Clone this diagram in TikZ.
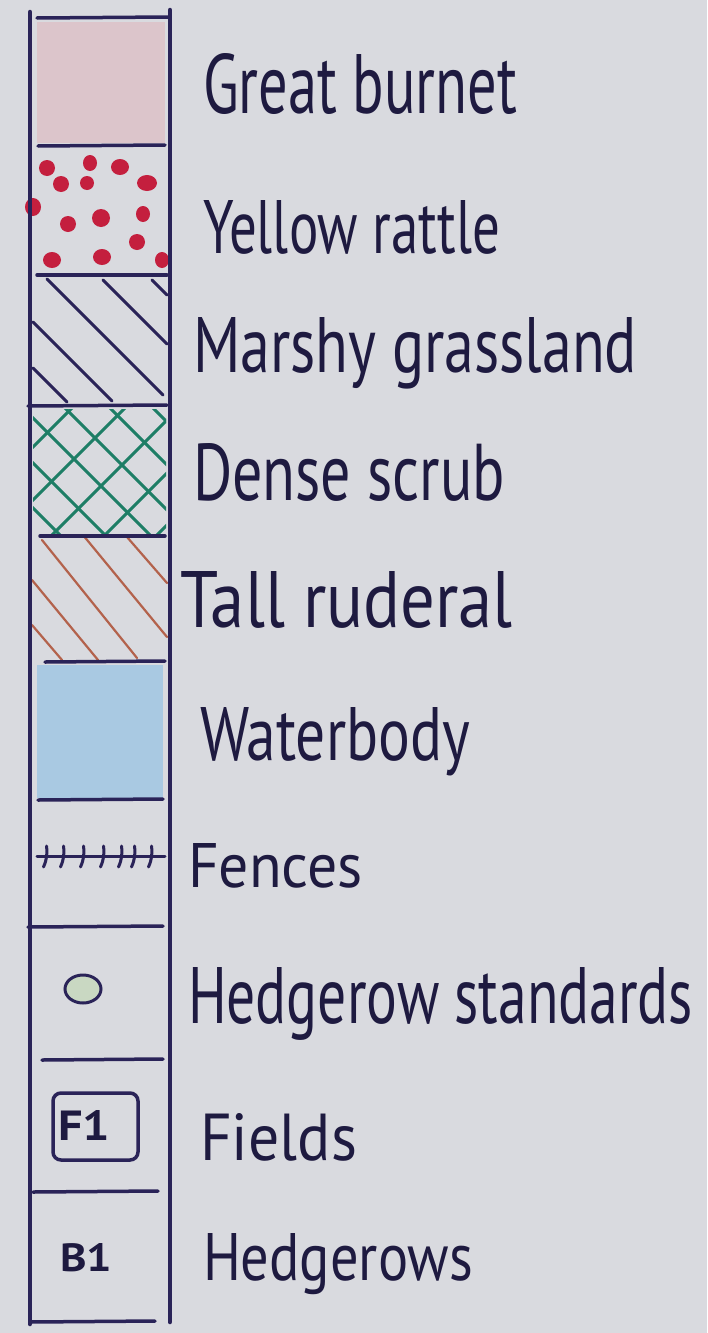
\documentclass[tikz,border=0pt]{standalone}
\usepackage{fontspec}
\setmainfont{PT Sans}
\usepackage{graphicx}
\definecolor{paper}{HTML}{D9DADF}
\definecolor{inkc}{HTML}{2A2358}
\definecolor{textc}{HTML}{1E1A40}
\definecolor{pinkfill}{HTML}{DCC5CB}
\definecolor{dotred}{HTML}{C41F3E}
\definecolor{bluefill}{HTML}{A9C9E2}
\definecolor{scrubgreen}{HTML}{1E7E66}
\definecolor{ruderal}{HTML}{B3624C}
\definecolor{palegreen}{HTML}{C9D8C2}
\newcommand{\fitlbl}[3]{\resizebox{#1pt}{#2pt}{\fontsize{60}{60}\selectfont #3}}
\begin{document}
\begin{tikzpicture}[x=1pt,y=-1pt,
  framev/.style={draw=inkc, line width=4.5pt, line cap=round},
  frameh/.style={draw=inkc, line width=3.5pt, line cap=round},
  marsh/.style={draw=inkc, line width=3pt, line cap=round},
  scrub/.style={draw=scrubgreen, line width=3pt, line cap=round},
  rud/.style={draw=ruderal, line width=2.2pt, line cap=round},
  fencestyle/.style={draw=inkc, line width=3pt, line cap=round},
  dot/.style={fill=dotred},
  lbl/.style={anchor=base west, inner sep=0pt, outer sep=0pt, text=textc},
  sym/.style={anchor=base west, inner sep=0pt, outer sep=0pt, text=textc}]
\fill[paper] (0,0) rectangle (707,1333);
\useasboundingbox (0,0) rectangle (707,1333);

% fills
\fill[pinkfill] (37,22) rectangle (165,143);
\fill[bluefill] (37,665) rectangle (163,798);

% yellow rattle dots
\foreach \x/\y/\rx/\ry in {47/168/8/8, 90/163/7/8, 120/167/9/8, 61/184/8/8, 87/183/7/7,
  147/183/10/8, 33/207/8/9, 68/224/8/8, 101/218/9/9, 143/214/7/8, 137/242/8/8,
  52/260/9/8, 102/257/9/8, 162/260/7/8}
  \fill[dot] (\x,\y) ellipse [x radius=\rx, y radius=\ry];

% marshy grassland hatching
\draw[marsh] (47,279) -- (163,395);
\draw[marsh] (103,280) -- (167,344);
\draw[marsh] (152,280) -- (167,295);
\draw[marsh] (33,322) -- (112,401);
\draw[marsh] (33,368) -- (67,402);

% dense scrub cross hatching
\begin{scope}
  \clip (33,409) rectangle (166,533);
  \foreach \c in {-475,-430,-385,-343,-298,-255}
    \draw[scrub] (\c+400,400) -- (\c+540,540);
  \foreach \d in {480,533,587,640,692}
    \draw[scrub] (\d-400,400) -- (\d-540,540);
\end{scope}

% tall ruderal hatching
\draw[rud] (42,540) -- (137,658);
\draw[rud] (83,535) -- (167,637);
\draw[rud] (127,537) -- (167,583);
\draw[rud] (32,580) -- (98,660);
\draw[rud] (32,625) -- (62,660);

% fence symbol
\draw[fencestyle] (37,856) -- (165,856);
\foreach \x in {45,62,82,102,120,133,150}
  \draw[fencestyle] (\x+1.5,846) to[bend left=15] (\x-1.5,867);

% hedgerow standard symbol
\draw[draw=inkc, fill=palegreen, line width=3pt] (83,989) ellipse [x radius=18, y radius=14];

% fields symbol
\draw[draw=inkc, line width=3.5pt, rounded corners=8pt] (53,1093) rectangle (138,1160);
\node[sym] (f1) at (58,1140) {\resizebox{52pt}{30pt}{\fontsize{40}{40}\selectfont\bfseries F1}};
\node[sym] (b1) at (60,1271) {\resizebox{52pt}{28pt}{\fontsize{40}{40}\selectfont\bfseries B1}};

% frame
\draw[framev] (30,12) -- (30,1324);
\draw[framev] (170,10) -- (170,1322);
\foreach \xa/\ya/\xb/\yb in {37/18/168/17, 38/146/165/145, 37/275/167/275, 28/406/167/405,
  40/536/165/536, 45/662/165/661, 38/800/163/799, 28/927/163/926, 42/1060/163/1059,
  33/1192/158/1191, 30/1322/155/1321}
  \draw[frameh] (\xa,\ya) -- (\xb,\yb);

% labels
\node[lbl] (l1) at (203,113) {\fitlbl{314}{60}{Great burnet}};
\node[lbl] (l2) at (203,253) {\fitlbl{297}{53}{Yellow rattle}};
\node[lbl] (l3) at (193,372) {\fitlbl{444}{55}{Marshy grassland}};
\node[lbl] (l4) at (193,500) {\fitlbl{312}{57}{Dense scrub}};
\node[lbl] (l5) at (180,627) {\fitlbl{333}{56}{Tall ruderal}};
\node[lbl] (l6) at (200,760) {\fitlbl{270}{53}{Waterbody}};
\node[lbl] (l7) at (188,887) {\fitlbl{175}{44}{Fences}};
\node[lbl] (l8) at (188,1023) {\fitlbl{505}{56}{Hedgerow standards}};
\node[lbl] (l9) at (200,1160) {\fitlbl{157}{47}{Fields}};
\node[lbl] (l10) at (203,1280) {\fitlbl{270}{47}{Hedgerows}};
\end{tikzpicture}
\end{document}
